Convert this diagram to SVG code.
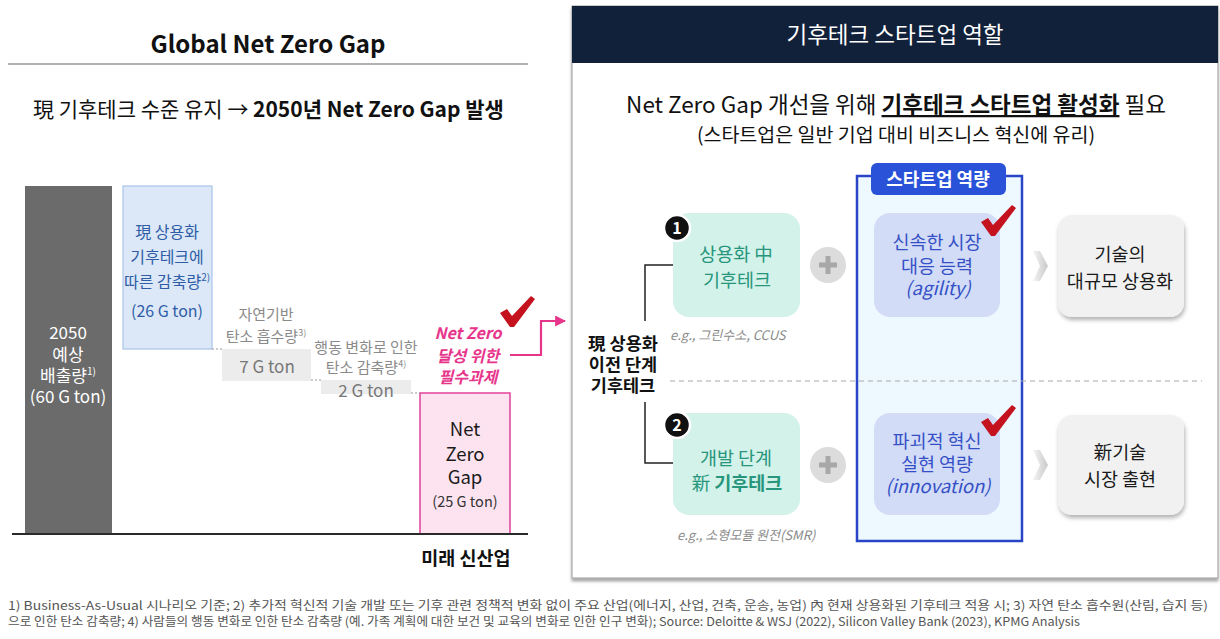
<svg xmlns="http://www.w3.org/2000/svg" width="1220" height="639" viewBox="0 0 1220 639">
<style>
text{font-family:"Noto Sans CJK KR","Noto Sans",sans-serif;}
.c{text-anchor:middle;}
.b{font-weight:700;}
.wbar{fill:#ffffff;font-size:17px;}
.blu{fill:#2e5da6;font-size:16px;}
.gl{fill:#8a8a8a;font-size:15px;}
.gv{fill:#777;font-size:17px;}
.pk{fill:#e8358c;font-size:16px;font-style:italic;font-weight:700;}
.gr{fill:#27967c;font-size:18.5px;}
.pu{fill:#3550c6;font-size:18.5px;}
.dk{fill:#1a1a1a;font-size:18.5px;}
.eg{fill:#8a8a8a;font-size:13px;font-style:italic;}
.fn{fill:#555;font-size:12px;}
.green{fill:#d3f2ea;}
.purp{fill:#d2dcf6;}
.res{fill:#f1f1f1;}
.chk{fill:#c4121e;}
</style>
<defs>
<filter id="sh" x="-10%" y="-10%" width="125%" height="130%">
<feDropShadow dx="1" dy="3" stdDeviation="2" flood-color="#000" flood-opacity="0.3"/>
</filter>
<filter id="sh2" x="-5%" y="-5%" width="110%" height="110%">
<feDropShadow dx="0" dy="3" stdDeviation="1.5" flood-color="#000" flood-opacity="0.35"/>
</filter>
<marker id="pa" viewBox="0 0 10 10" refX="9" refY="5" markerWidth="5" markerHeight="5" orient="auto">
<path d="M0,0 L10,5 L0,10 Z" fill="#e8358c"/>
</marker>
<path id="check" d="M0,17 L7,13 L12,20 L31,0 L35,3 L14,31 L10,31 Z"/>
<linearGradient id="chev" x1="0" x2="1">
<stop offset="0" stop-color="#f4f4f4"/><stop offset="1" stop-color="#c9c9c9"/>
</linearGradient>
</defs>
<rect width="1220" height="639" fill="#ffffff"/>

<!-- Left panel -->
<g id="left-title">
<text x="268" y="53" class="c b" font-size="24" fill="#111">Global Net Zero Gap</text>
<line x1="8" y1="64" x2="528" y2="64" stroke="#666" stroke-width="1.2"/>
<text x="33" y="117" font-size="21" fill="#111">現 기후테크 수준 유지 → <tspan class="b">2050년 Net Zero Gap 발생</tspan></text>
</g>

<g id="bar-2050">
<rect x="25" y="186" width="87" height="348" fill="#6b6b6b"/>
<text x="68" y="339" class="c wbar" font-size="20">2050</text>
<text x="68" y="361" class="c wbar">예상</text>
<text x="68" y="382" class="c wbar">배출량<tspan font-size="10" dy="-7">1)</tspan></text>
<text x="68" y="403" class="c wbar">(60 G ton)</text>
</g>

<g id="bar-commercial">
<rect x="123" y="186" width="89" height="163" fill="#dce8f8" stroke="#a8c3ea" stroke-width="1.2"/>
<text x="167" y="238" class="c blu">現 상용화</text>
<text x="167" y="263" class="c blu">기후테크에</text>
<text x="167" y="288" class="c blu">따른 감축량<tspan font-size="10" dy="-7">2)</tspan></text>
<text x="167" y="317" class="c blu">(26 G ton)</text>
</g>

<g id="bar-nature">
<rect x="222" y="349" width="89" height="32" fill="#ececec"/>
<text x="266" y="320" class="c gl">자연기반</text>
<text x="266" y="342" class="c gl">탄소 흡수량<tspan font-size="9" dy="-6">3)</tspan></text>
<text x="267" y="373" class="c gv">7 G ton</text>
</g>

<g id="bar-behavior">
<rect x="321" y="380" width="90" height="14" fill="#ececec"/>
<text x="366" y="353" class="c gl">행동 변화로 인한</text>
<text x="366" y="373" class="c gl">탄소 감축량<tspan font-size="9" dy="-6">4)</tspan></text>
<text x="366" y="397" class="c gv" font-size="18">2 G ton</text>
</g>

<g id="bar-gap">
<rect x="420" y="393" width="90" height="141" fill="#fce3ef" stroke="#e2409a" stroke-width="1.5"/>
<text x="465" y="436" class="c dk" font-size="19.5">Net</text>
<text x="465" y="461" class="c dk" font-size="19.5">Zero</text>
<text x="465" y="484" class="c dk" font-size="19.5">Gap</text>
<text x="465" y="507" class="c" font-size="14.5" fill="#333">(25 G ton)</text>
</g>

<g id="gap-label">
<text x="468" y="339" class="c pk">Net Zero</text>
<text x="468" y="362" class="c pk">달성 위한</text>
<text x="468" y="383" class="c pk">필수과제</text>
<use href="#check" x="500" y="296" class="chk"/>
</g>

<g id="axis">
<line x1="12" y1="534" x2="528" y2="534" stroke="#2a2a2a" stroke-width="2"/>
<text x="466" y="565" class="c b" font-size="18.5" fill="#111">미래 신산업</text>
</g>

<!-- Right panel -->
<g id="right-panel">
<rect x="572" y="6" width="646" height="572" fill="#ffffff" stroke="#9a9a9a" stroke-width="1" filter="url(#sh2)"/>
<rect x="572" y="6" width="646" height="57" fill="#12213a"/>
<text x="895" y="43" class="c" font-size="22.5" fill="#ffffff">기후테크 스타트업 역할</text>
<text x="896" y="113" class="c" font-size="22.5" fill="#111">Net Zero Gap 개선을 위해 <tspan class="b" text-decoration="underline">기후테크 스타트업 활성화</tspan> 필요</text>
<text x="896" y="142" class="c" font-size="19.5" fill="#111">(스타트업은 일반 기업 대비 비즈니스 혁신에 유리)</text>
</g>

<g id="startup-frame">
<rect x="857" y="176" width="165" height="365" fill="#eef9ff" stroke="#2a44c8" stroke-width="2.5"/>
<rect x="871" y="163" width="135" height="32" rx="6" fill="#2952d9"/>
<text x="938" y="186" class="c b" font-size="18" fill="#ffffff">스타트업 역량</text>
</g>

<g id="connectors">
<path d="M212,349 H222 M311,380 H321 M411,393 H420" stroke="#999" stroke-width="1" stroke-dasharray="2,2" fill="none"/>
<path d="M510,355 H541 V321 H565" stroke="#e8358c" stroke-width="2.2" fill="none" marker-end="url(#pa)"/>
<line x1="670" y1="381" x2="1202" y2="381" stroke="#aaa" stroke-width="1.2" stroke-dasharray="5,4"/>
<path d="M673,265 H645 V321" stroke="#222" stroke-width="1.5" fill="none"/>
<path d="M645,402 V463 H673" stroke="#222" stroke-width="1.5" fill="none"/>
<path d="M1033,251 L1040,251 L1048,266 L1040,281 L1033,281 L1040,266 Z" fill="url(#chev)"/>
<path d="M1033,450 L1040,450 L1048,465 L1040,480 L1033,480 L1040,465 Z" fill="url(#chev)"/>
</g>

<g id="pre-commercial-label">
<text x="623" y="350" class="c b" font-size="17.5" fill="#111">現 상용화</text>
<text x="623" y="371" class="c b" font-size="17.5" fill="#111">이전 단계</text>
<text x="623" y="392" class="c b" font-size="17.5" fill="#111">기후테크</text>
</g>

<g id="node-commercializing">
<rect x="673" y="213" width="127" height="104" rx="16" class="green"/>
<circle cx="677" cy="228" r="13" fill="#111" stroke="#ffffff" stroke-width="2.5"/>
<text x="677" y="234" class="c b" font-size="16" fill="#ffffff">1</text>
<text x="736" y="261" class="c gr">상용화 中</text>
<text x="737" y="287" class="c gr">기후테크</text>
<text x="670" y="340" class="eg">e.g., 그린수소, CCUS</text>
</g>

<g id="node-development">
<rect x="673" y="413" width="127" height="102" rx="16" class="green"/>
<circle cx="677" cy="425" r="13" fill="#111" stroke="#ffffff" stroke-width="2.5"/>
<text x="677" y="431" class="c b" font-size="16" fill="#ffffff">2</text>
<text x="736" y="465" class="c gr">개발 단계</text>
<text x="737" y="490" class="c gr">新 <tspan class="b">기후테크</tspan></text>
<text x="677" y="540" class="eg">e.g., 소형모듈 원전(SMR)</text>
</g>

<g id="plus-1">
<circle cx="828" cy="265" r="18" fill="#dcdcdc"/>
<path d="M819,265 H837 M828,256 V274" stroke="#a8a8a8" stroke-width="5"/>
</g>
<g id="plus-2">
<circle cx="828" cy="465" r="18" fill="#dcdcdc"/>
<path d="M819,465 H837 M828,456 V474" stroke="#a8a8a8" stroke-width="5"/>
</g>

<g id="node-agility">
<rect x="874" y="213" width="126" height="104" rx="16" class="purp"/>
<text x="937" y="249" class="c pu">신속한 시장</text>
<text x="937" y="273" class="c pu">대응 능력</text>
<text x="938" y="295" class="c pu" font-size="15.5" font-style="italic">(agility)</text>
<use href="#check" x="981" y="205" class="chk"/>
</g>

<g id="node-innovation">
<rect x="874" y="413" width="126" height="102" rx="16" class="purp"/>
<text x="937" y="448" class="c pu">파괴적 혁신</text>
<text x="937" y="471" class="c pu">실현 역량</text>
<text x="938" y="493" class="c pu" font-size="16" font-style="italic">(innovation)</text>
<use href="#check" x="981" y="405" class="chk"/>
</g>

<g id="node-scale">
<rect x="1058" y="215" width="126" height="102" rx="14" class="res" filter="url(#sh)"/>
<text x="1120" y="261" class="c dk">기술의</text>
<text x="1120" y="288" class="c dk">대규모 상용화</text>
</g>

<g id="node-newmarket">
<rect x="1058" y="415" width="126" height="100" rx="14" class="res" filter="url(#sh)"/>
<text x="1120" y="459" class="c dk">新기술</text>
<text x="1120" y="486" class="c dk">시장 출현</text>
</g>

<g id="footnotes">
<text x="8" y="610" class="fn" textLength="1200" lengthAdjust="spacingAndGlyphs">1) Business-As-Usual 시나리오 기준; 2) 추가적 혁신적 기술 개발 또는 기후 관련 정책적 변화 없이 주요 산업(에너지, 산업, 건축, 운송, 농업) 內 현재 상용화된 기후테크 적용 시; 3) 자연 탄소 흡수원(산림, 습지 등)</text>
<text x="8" y="626" class="fn" textLength="1072" lengthAdjust="spacingAndGlyphs">으로 인한 탄소 감축량; 4) 사람들의 행동 변화로 인한 탄소 감축량 (예. 가족 계획에 대한 보건 및 교육의 변화로 인한 인구 변화); Source: Deloitte &amp; WSJ (2022), Silicon Valley Bank (2023), KPMG Analysis</text>
</g>
</svg>
